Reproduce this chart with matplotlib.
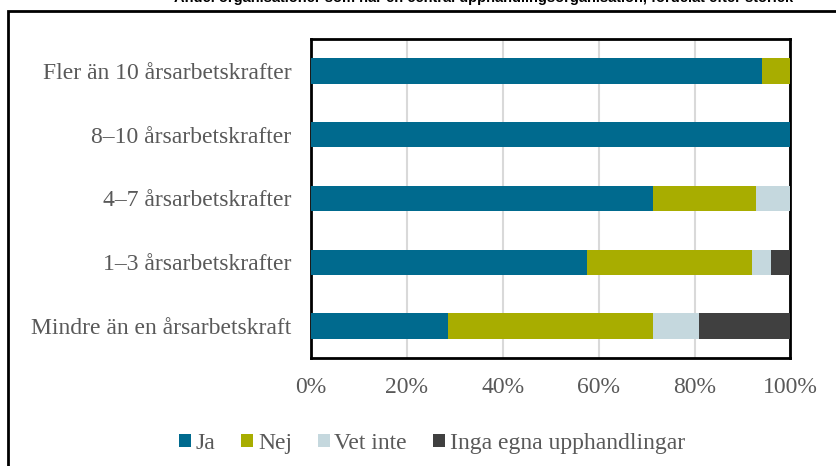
import matplotlib.pyplot as plt
import matplotlib.patches as patches
import numpy as np

# Data (shares in %)
categories = ['Fler än 10 årsarbetskrafter', '8–10 årsarbetskrafter', '4–7 årsarbetskrafter',
              '1–3 årsarbetskrafter', 'Mindre än en årsarbetskraft']
series = ['Ja', 'Nej', 'Vet inte', 'Inga egna upphandlingar']
ja = [94.1, 100.0, 71.4, 57.5, 28.6]
nej = [5.9, 0.0, 21.4, 34.4, 42.8]
vet_inte = [0.0, 0.0, 7.2, 4.1, 9.6]
inga = [0.0, 0.0, 0.0, 4.0, 19.0]
colors = ['#006A8E', '#A8AD00', '#C5D8DE', '#404040']
xticks = [0, 20, 40, 60, 80, 100]

plt.rcParams['font.family'] = ['Liberation Serif', 'DejaVu Serif']
text_color = '#595959'

fig = plt.figure(figsize=(8.37, 4.66), dpi=100)
ax = fig.add_axes([0.3712, 0.2318, 0.5732, 0.6845])

y = np.arange(len(categories))
left = np.zeros(len(categories))
for name, vals, col in zip(series, [ja, nej, vet_inte, inga], colors):
    ax.barh(y, vals, left=left, height=0.4, color=col, label=name, zorder=3)
    left += np.array(vals)

ax.set_xlim(0, 100)
ax.set_ylim(len(categories) - 0.5, -0.5)
ax.set_yticks(y)
ax.set_yticklabels(categories)
ax.set_xticks(xticks)
ax.set_xticklabels([f'{t}%' for t in xticks])
ax.tick_params(axis='both', length=0, labelsize=17, labelcolor=text_color)
ax.tick_params(axis='y', pad=14)
ax.tick_params(axis='x', pad=13.5)
ax.grid(axis='x', color='#D9D9D9', linewidth=1.5, zorder=0)
for s in ax.spines.values():
    s.set_linewidth(2)
    s.set_color('black')

handles, labels = ax.get_legend_handles_labels()
fig.legend(handles, labels, loc='center', bbox_to_anchor=(0.516, 0.049), ncol=4,
           frameon=False, fontsize=17, handlelength=0.5, handleheight=0.5,
           handletextpad=0.2, columnspacing=1.1, labelcolor=text_color)

# outer chart frame (partly outside the image)
frame = patches.Rectangle((8 / 837, -0.1), 1.2, 1 - 11 / 466 + 0.1, transform=fig.transFigure,
                          fill=False, edgecolor='black', linewidth=2, clip_on=False)
fig.patches.append(frame)

# title, cut off at the top of the image
fig.text(0.578, 1 - 2 / 466,
         'Andel organisationer som har en central upphandlingsorganisation, fördelat efter storlek',
         ha='center', va='baseline', fontsize=10.5, fontweight='bold',
         family=['Liberation Sans', 'DejaVu Sans'], color='black')

fig.savefig('out.png', dpi=100)
